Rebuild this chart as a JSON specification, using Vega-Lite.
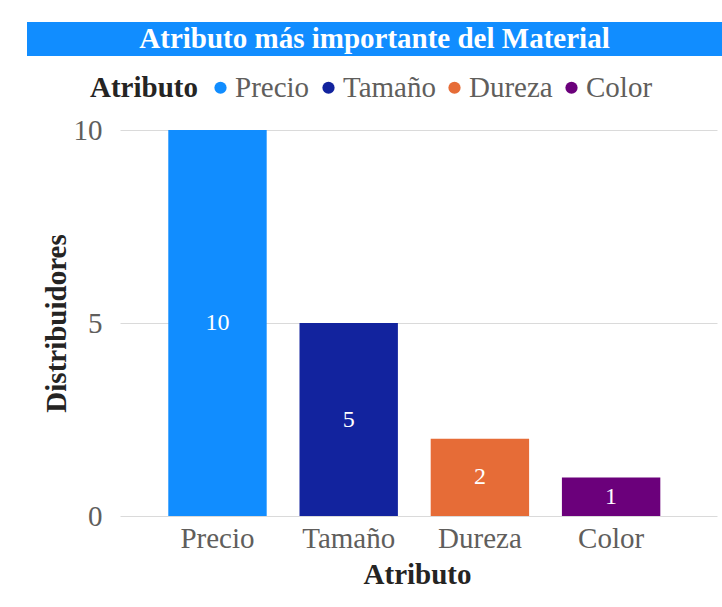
{
  "$schema": "https://vega.github.io/schema/vega-lite/v6.json",
  "padding": {"left": 27, "top": 22, "right": 0, "bottom": 0},
  "background": "white",
  "spacing": 17,
  "config": {
    "font": "Liberation Serif",
    "view": {"stroke": null}
  },
  "resolve": {"legend": {"color": "independent"}, "scale": {"color": "independent"}},
  "vconcat": [
    {
      "width": 695,
      "height": 34,
      "view": {"fill": "#118DFF", "stroke": null},
      "data": {"values": [{"titulo": "Atributo más importante del Material"}]},
      "mark": {"type": "text", "color": "white", "fontSize": 29, "fontWeight": "bold", "align": "center", "baseline": "middle", "font": "Liberation Serif"},
      "encoding": {"text": {"field": "titulo", "type": "nominal"}}
    },
    {
      "width": 690,
      "height": 386,
      "data": {"values": [
        {"Atributo": "Precio", "Distribuidores": 10},
        {"Atributo": "Tamaño", "Distribuidores": 5},
        {"Atributo": "Dureza", "Distribuidores": 2},
        {"Atributo": "Color", "Distribuidores": 1}
      ]},
      "encoding": {
        "x": {
          "field": "Atributo", "type": "nominal",
          "sort": ["Precio", "Tamaño", "Dureza", "Color"],
          "scale": {"range": [93, 690], "paddingInner": 0.25, "paddingOuter": 0.4, "align": 0.46},
          "axis": {
            "title": "Atributo", "labelAngle": 0, "labelFontSize": 29, "labelColor": "#605E5C",
            "titleFontSize": 29, "titleFontWeight": "bold", "titleColor": "#252423",
            "titleX": 390,
            "domain": false, "ticks": false, "labelPadding": 8, "titlePadding": 7
          }
        }
      },
      "layer": [
        {
          "mark": {"type": "bar"},
          "encoding": {
            "y": {
              "field": "Distribuidores", "type": "quantitative",
              "scale": {"domain": [0, 10]},
              "axis": {
                "values": [0, 5, 10], "title": "Distribuidores", "offset": -93,
                "labelFontSize": 29, "labelColor": "#605E5C",
                "titleFontSize": 29, "titleFontWeight": "bold", "titleColor": "#252423",
                "domain": false, "ticks": false, "labelPadding": 18, "titlePadding": 2,
                "gridColor": "#DADADA", "gridWidth": 1
              }
            },
            "color": {
              "field": "Atributo", "type": "nominal",
              "scale": {"domain": ["Precio", "Tamaño", "Dureza", "Color"], "range": ["#118DFF", "#12239E", "#E66C37", "#6B007B"]},
              "legend": {
                "title": "Atributo", "orient": "none", "direction": "horizontal",
                "legendX": 63, "legendY": -57,
                "titleOrient": "left", "titleFontSize": 29, "titleFontWeight": "bold", "titleColor": "#252423",
                "labelFontSize": 29, "labelColor": "#605E5C",
                "symbolType": "circle", "symbolSize": 150, "symbolStrokeWidth": 0,
                "labelOffset": 0, "columnPadding": 4, "titlePadding": 8
              }
            }
          }
        },
        {
          "transform": [{"calculate": "datum.Distribuidores / 2", "as": "mitad"}],
          "mark": {"type": "text", "color": "white", "fontSize": 24, "baseline": "middle", "align": "center"},
          "encoding": {
            "y": {"field": "mitad", "type": "quantitative"},
            "text": {"field": "Distribuidores", "type": "quantitative"}
          }
        }
      ]
    }
  ]
}
